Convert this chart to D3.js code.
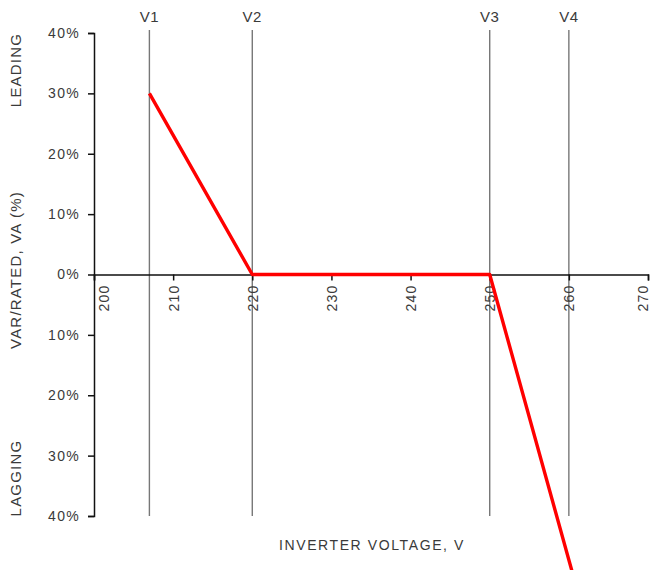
<!DOCTYPE html>
<html>
<head>
<meta charset="utf-8">
<script src="https://cdn.jsdelivr.net/npm/d3@7"></script>
<style>
  body { margin: 0; background: #fff; }
  text { font-family: "Liberation Sans", Arial, sans-serif; fill: #3a3a3a; }
</style>
</head>
<body>
<div id="chart"></div>
<script>
// chart data
const xTicks = [200, 210, 220, 230, 240, 250, 260, 270];
const yTicks = [40, 30, 20, 10, 0, -10, -20, -30, -40];
const markerNames = ["V1", "V2", "V3", "V4"];
const markerVolts = [207, 220, 250, 260];
const curveVolts = [207, 220, 250, 261];
const curveVar = [30, 0, 0, -52];

const width = 652, height = 570;

const svg = d3.select("#chart")
  .append("svg")
  .attr("width", width)
  .attr("height", height);

const x = d3.scaleLinear().domain([200, 270]).range([94, 648]);
const y = d3.scaleLinear().domain([-40, 40]).range([516, 33]);

// vertical marker lines
svg.selectAll(".vline")
  .data(markerVolts)
  .join("line")
  .attr("x1", d => x(d)).attr("x2", d => x(d))
  .attr("y1", y(40) - 3).attr("y2", y(-40))
  .attr("stroke", "#777")
  .attr("stroke-width", 1.4);

svg.selectAll(".vlabel")
  .data(markerNames)
  .join("text")
  .attr("x", (d, i) => x(markerVolts[i]))
  .attr("y", 22)
  .attr("text-anchor", "middle")
  .attr("font-size", "15px")
  .attr("letter-spacing", "0.5px")
  .text(d => d);

// y axis
const yAxis = svg.append("g")
  .attr("transform", `translate(${x(200)},0)`)
  .call(d3.axisLeft(y).tickValues(yTicks).tickSize(6).tickPadding(8)
    .tickFormat(d => Math.abs(d) + "%"));
yAxis.select(".domain").attr("stroke", "#111").attr("stroke-width", 1.5);
yAxis.selectAll(".tick line").attr("stroke", "#111").attr("stroke-width", 1.5);
yAxis.selectAll(".tick text")
  .attr("font-size", "14px")
  .attr("letter-spacing", "1.3px")
  .attr("fill", "#3a3a3a");

// x axis through 0%
const xAxis = svg.append("g")
  .attr("transform", `translate(0,${y(0)})`)
  .call(d3.axisBottom(x).tickValues(xTicks).tickSize(6).tickSizeOuter(6));
xAxis.select(".domain").attr("stroke", "#111").attr("stroke-width", 1.5);
xAxis.selectAll(".tick line").attr("stroke", "#111").attr("stroke-width", 1.5);
xAxis.selectAll(".tick text")
  .attr("font-size", "14px")
  .attr("letter-spacing", "1.2px")
  .attr("fill", "#3a3a3a")
  .attr("text-anchor", "end")
  .attr("dy", "0.35em")
  .attr("transform", (d, i) => {
    const shift = i === 0 ? 10 : (i === xTicks.length - 1 ? -5 : 0);
    return `translate(${shift},0) rotate(-90)`;
  })
  .attr("x", -10)
  .attr("y", 0);

// red curve
const line = d3.line()
  .x((d, i) => x(curveVolts[i]))
  .y(d => y(d));

svg.append("path")
  .datum(curveVar)
  .attr("d", line)
  .attr("fill", "none")
  .attr("stroke", "#f00")
  .attr("stroke-width", 3.4)
  .attr("stroke-linejoin", "round");

// titles
function sideLabel(txt, cy) {
  svg.append("text")
    .attr("transform", `translate(21,${cy}) rotate(-90)`)
    .attr("text-anchor", "middle")
    .attr("font-size", "15px")
    .attr("letter-spacing", "1.2px")
    .text(txt);
}
sideLabel("LEADING", 70);
sideLabel("VAR/RATED,  VA (%)", 270);
sideLabel("LAGGING", 478);

svg.append("text")
  .attr("x", 372)
  .attr("y", 550)
  .attr("text-anchor", "middle")
  .attr("font-size", "14px")
  .attr("letter-spacing", "1.6px")
  .text("INVERTER VOLTAGE, V");
</script>
</body>
</html>
